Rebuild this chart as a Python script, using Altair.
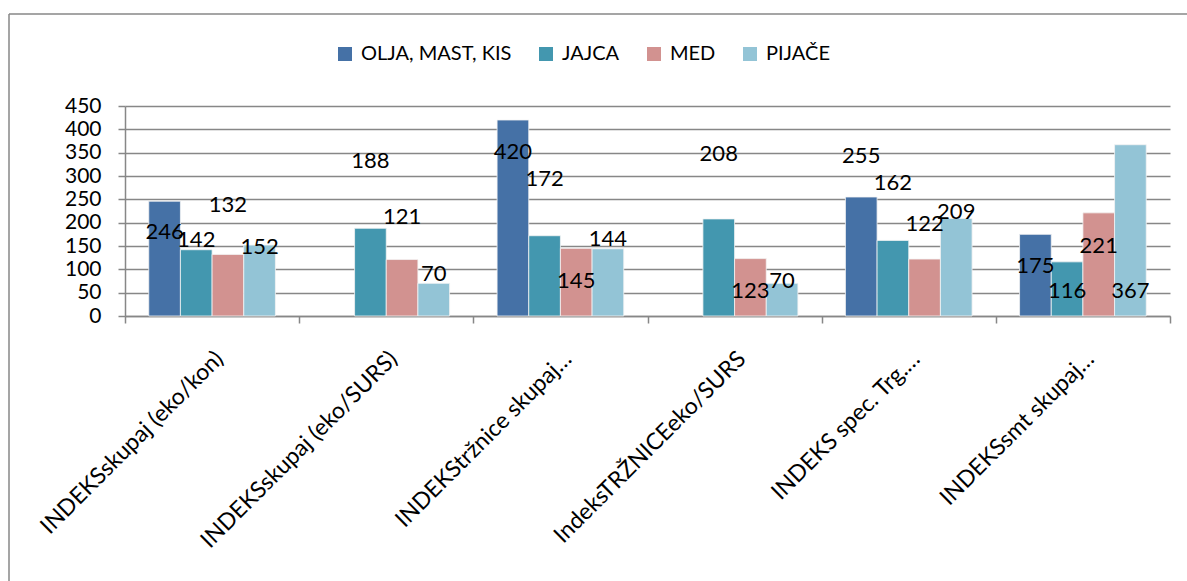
import altair as alt
import pandas as pd

# Category labels (long ones shortened with an ellipsis)
categories = [
    "INDEKSskupaj (eko/kon)",
    "INDEKSskupaj (eko/SURS)",
    "INDEKStržnice skupaj…",
    "IndeksTRŽNICEeko/SURS",
    "INDEKS spec. Trg.…",
    "INDEKSsmt skupaj…",
]
series = ["OLJA, MAST, KIS", "JAJCA", "MED", "PIJAČE"]

# Index values per series (None = no value for that category)
olja = [246, None, 420, None, 255, 175]
jajca = [142, 188, 172, 208, 162, 116]
med = [132, 121, 145, 123, 122, 221]
pijace = [152, 70, 144, 70, 209, 367]

# Where each value label sits on the value axis
olja_label_at = [179, None, 351, None, 342, 108]
jajca_label_at = [162, 333, 294, 348, 285, 54]
med_label_at = [237, 212, 76, 54, 197, 151]
pijace_label_at = [147, 90, 165, 75, 222, 54]

colors = ["#4571A6", "#4397AF", "#D29290", "#93C4D6"]
y_ticks = [0, 50, 100, 150, 200, 250, 300, 350, 400, 450]

FONT = "Lato"
FS_NUM = 22
FS_AXIS = 21
FS_LEGEND = 20
FS_CAT = 23
GRAY = "#878787"

rows = []
for s, vals, pos in zip(
    series,
    [olja, jajca, med, pijace],
    [olja_label_at, jajca_label_at, med_label_at, pijace_label_at],
):
    for c, v, p in zip(categories, vals, pos):
        if v is not None:
            rows.append({"category": c, "series": s, "value": v, "label_at": p})
df = pd.DataFrame(rows)

x_axis = alt.Axis(
    title=None,
    labelAngle=-45,
    labelAlign="right",
    labelBaseline="middle",
    labelFont=FONT,
    labelFontSize=FS_CAT,
    labelColor="black",
    labelPadding=32,
    labelOffset=7,
    labelLimit=500,
    labelOverlap=False,
    tickBand="extent",
    tickSize=7,
    tickColor=GRAY,
    tickWidth=1.5,
    domainColor=GRAY,
    domainWidth=1.5,
    grid=False,
)
y_axis = alt.Axis(
    title=None,
    values=y_ticks,
    labelFont=FONT,
    labelFontSize=FS_AXIS,
    labelColor="black",
    labelPadding=17,
    labelOverlap=False,
    labelFlush=False,
    tickSize=7,
    tickColor=GRAY,
    tickWidth=1.5,
    domainColor=GRAY,
    domainWidth=1.5,
    grid=True,
    gridColor=GRAY,
    gridWidth=1.5,
)
x_scale = alt.Scale(paddingInner=0, paddingOuter=0)
xoff_scale = alt.Scale(paddingInner=0, paddingOuter=0.75)
y_scale = alt.Scale(domain=[0, 450], nice=False, zero=True)

bars = alt.Chart(df).mark_bar(stroke="#f4f4f4", strokeWidth=0.8).encode(
    x=alt.X("category:N", sort=categories, scale=x_scale, axis=x_axis),
    xOffset=alt.XOffset("series:N", sort=series, scale=xoff_scale),
    y=alt.Y("value:Q", scale=y_scale, axis=y_axis),
    color=alt.Color(
        "series:N",
        sort=series,
        scale=alt.Scale(domain=series, range=colors),
        legend=alt.Legend(
            title=None,
            orient="none",
            legendX=210,
            legendY=-62,
            direction="horizontal",
            symbolType="square",
            symbolSize=196,
            symbolStrokeWidth=0,
            labelFont=FONT,
            labelFontSize=FS_LEGEND,
            labelColor="black",
            labelOffset=6,
            columnPadding=24,
            labelLimit=500,
        ),
    ),
)

labels = alt.Chart(df).mark_text(
    font=FONT, fontSize=FS_NUM, color="black", baseline="middle", align="center"
).encode(
    x=alt.X("category:N", sort=categories, scale=x_scale, axis=x_axis),
    xOffset=alt.XOffset("series:N", sort=series, scale=xoff_scale),
    y=alt.Y("label_at:Q", scale=y_scale, axis=y_axis),
    text=alt.Text("value:Q"),
)

# Outer chart frame (top and left edges)
frame_df = pd.DataFrame({"k": [0]})
frame_top = alt.Chart(frame_df).mark_rule(color=GRAY, strokeWidth=1.5).encode(
    x=alt.value(-116), x2=alt.value(1070), y=alt.value(-92)
)
frame_left = alt.Chart(frame_df).mark_rule(color=GRAY, strokeWidth=1.5).encode(
    x=alt.value(-116), y=alt.value(-92), y2=alt.value(480)
)

chart = (
    alt.layer(bars, labels, frame_top, frame_left)
    .properties(
        width=1045,
        height=210,
        autosize=alt.AutoSizeParams(type="none"),
        padding={"left": 125, "top": 106, "right": 17, "bottom": 265},
        background="white",
    )
    .configure_view(strokeWidth=0)
)

chart.save("out.html", embed_options={"renderer": "svg", "actions": False})
